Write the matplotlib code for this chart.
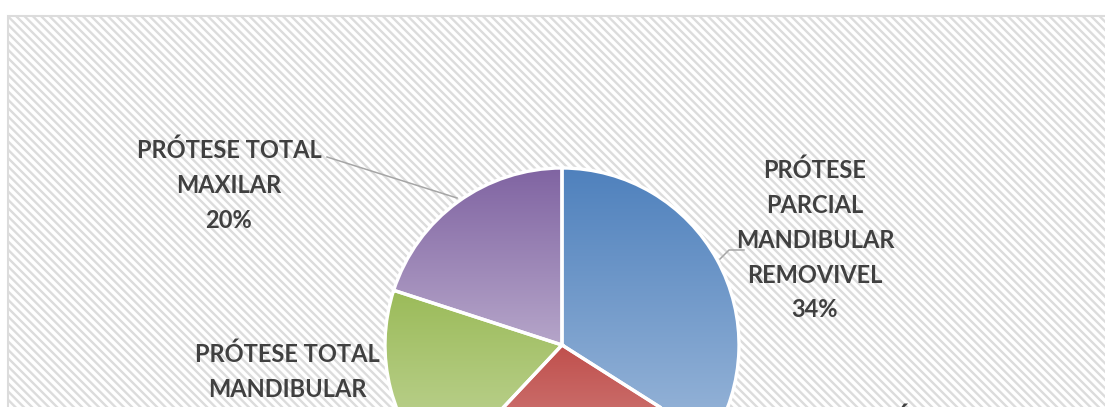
import numpy as np
import matplotlib
matplotlib.use("Agg")
import matplotlib.pyplot as plt
from matplotlib.patches import Rectangle
from matplotlib.colors import to_rgb

# ---- data ----
labels = ["PRÓTESE\nPARCIAL\nMANDIBULAR\nREMOVIVEL",
          "PRÓTESE\nPARCIAL\nMAXILAR\nREMOVIVEL",
          "PRÓTESE TOTAL\nMANDIBULAR",
          "PRÓTESE TOTAL\nMAXILAR"]
values = [34, 28, 18, 20]
colors = ["#4f81bd", "#c0504d", "#9bbb59", "#8064a2"]

W, H = 1105, 407
plt.rcParams['hatch.linewidth'] = 1.7
plt.rcParams['hatch.color'] = "#dcdcdc"

fig = plt.figure(figsize=(W / 100, H / 100), dpi=100)
ax = fig.add_axes([0, 0, 1, 1])
ax.set_axis_off()

def Y(y):
    return H - y

# hatched chart area
bg = Rectangle((8, -20), W + 20, Y(16) + 20, facecolor="white",
               edgecolor="#dcdcdc", hatch="\\\\\\\\", linewidth=1.5, zorder=0)
ax.add_patch(bg)

cx, cy, R = 562, Y(345), 177
wedges, _ = ax.pie(values, colors=colors, startangle=90, counterclock=False,
                   center=(cx, cy), radius=R, frame=True,
                   wedgeprops=dict(edgecolor="white", linewidth=2.4))

for w, c in zip(wedges, colors):
    base = np.array(to_rgb(c))
    ext = w.get_path().get_extents()
    n = 256
    t = np.linspace(0.42, 0.0, n)[:, None]  # bottom light -> top base
    grad = base[None, :] * (1 - t) + t
    img = grad[:, None, :]
    im = ax.imshow(img, extent=[ext.x0, ext.x1, ext.y0, ext.y1],
                   origin='lower', aspect='auto', zorder=1,
                   interpolation='bilinear')
    im.set_clip_path(w)
    w.set_facecolor('none')
    w.set_zorder(2)

tc = "#404040"
fs = 17
font = dict(family=["Lato", "DejaVu Sans"], fontweight="bold", color=tc,
            fontsize=fs, ha="center", va="center", linespacing=1.62, zorder=5)

ax.text(815, Y(240), labels[0] + f"\n{values[0]}%", **font)
ax.text(916, Y(489), labels[1] + f"\n{values[1]}%", **font)
ax.text(287, Y(389), labels[2] + f"\n{values[2]}%", **font)
ax.text(229, Y(185), labels[3] + f"\n{values[3]}%", **font)

# leader lines
ax.plot([327, 457], [Y(157), Y(198)], color="#a6a6a6", lw=1.1, zorder=4)
ax.plot([720, 729, 744], [Y(259), Y(250), Y(250)], color="#a6a6a6", lw=1.1, zorder=4)

ax.set_xlim(0, W)
ax.set_ylim(0, H)
ax.set_aspect('auto')

fig.savefig("out.png", dpi=100)
